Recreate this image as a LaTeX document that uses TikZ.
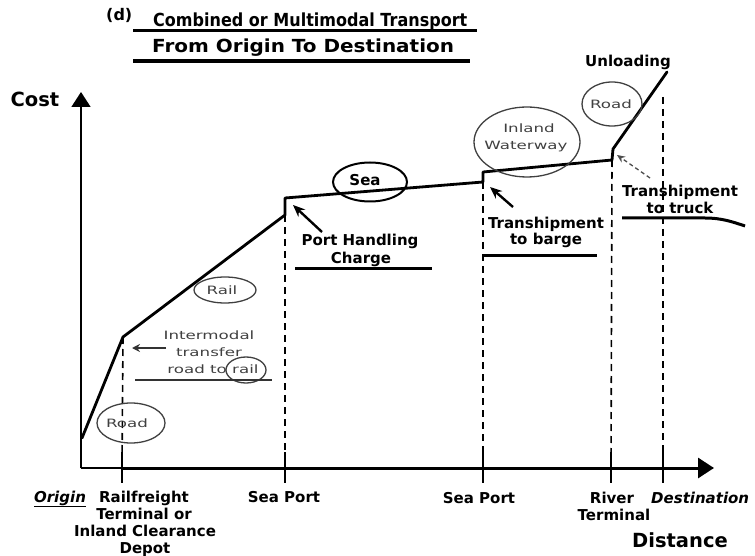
\documentclass[tikz,border=0pt]{standalone}
\usepackage{fontspec}
\usepackage{graphicx}
\setmainfont{DejaVu Sans}
\newfontfamily\widefont[FakeStretch=1.45]{DejaVu Sans}
\usetikzlibrary{arrows.meta,shapes.geometric}
\begin{document}
\begin{tikzpicture}[x=1pt,y=-1pt,
  lbl/.style={font=\fontsize{15}{17}\selectfont\bfseries, align=center, inner sep=0pt},
  ttl/.style={font=\fontsize{18}{20}\selectfont\bfseries, inner sep=0pt},
  big/.style={font=\fontsize{19.5}{22}\selectfont\bfseries, inner sep=0pt},
  lite/.style={font=\widefont\fontsize{11.5}{17}\selectfont, text=black!75, align=center, inner sep=0pt},
  ring/.style={ellipse, draw=black!75, line width=1.3pt, inner sep=0pt},
  curve/.style={line width=2.8pt, line join=round, line cap=round},
  dashline/.style={line width=1.6pt, dash pattern=on 7pt off 5pt},
  tickmark/.style={line width=2.4pt},
  uline/.style={line width=3pt},
  pointer/.style={line width=2.4pt, -{Stealth[length=12pt,width=10pt]}},
]
\useasboundingbox (0,0) rectangle (755,556);

% ---------- title ----------
\node[font=\fontsize{16}{18}\selectfont\bfseries, anchor=base west, inner sep=0pt] (dlab) at (106,21) {(d)};
\node[ttl, anchor=base west] (title1) at (153,27) {\scalebox{0.89}[1]{Combined or Multimodal Transport}};
\node[ttl, anchor=base west] (title2) at (152,53) {\scalebox{1.11}[1]{From Origin To Destination}};
\draw[uline] (133,31) -- (477,31);
\draw[line width=4pt] (133,61) -- (470,61);

% ---------- axes ----------
\coordinate (O) at (81,468);
\coordinate (ytip) at (81,92);
\coordinate (xtip) at (714,468);
\coordinate (rf) at (122,468);
\draw[line width=1.6pt, -{Triangle[length=15pt,width=19pt]}] (O) -- (ytip);
\draw[line width=1.6pt] (O) -- (rf);
\draw[line width=3pt, -{Triangle[length=16pt,width=20pt]}] (rf) -- (xtip);
\draw[line width=1.6pt] (O) -- ++(0,-10);
\node[big, anchor=base] (cost) at (35,107) {Cost};
\node[big, anchor=base] (dist) at (680,547) {Distance};

% ticks
\coordinate (t1) at (122,468);
\coordinate (t2) at (285,468);
\coordinate (t3) at (483,468);
\coordinate (t4) at (611,468);
\coordinate (t5) at (663,468);
\foreach \t in {t1,t2,t3,t4,t5}
  \draw[tickmark] ([yshift=16pt]\t) -- ([yshift=-15pt]\t);

% ---------- cost curve ----------
\coordinate (c0) at (82,438);
\coordinate (c1) at (123,337);
\coordinate (c2) at (285,215);
\coordinate (c3) at (285,198);
\coordinate (c4) at (483,182);
\coordinate (c5) at (483,172);
\coordinate (c6) at (612,160);
\coordinate (c7) at (613,149);
\coordinate (c8) at (667,72);
\coordinate (dtop) at (663,97);
\draw[curve] (c0) -- (c1) -- (c2) -- (c3) -- (c4) -- (c5) -- (c6) -- (c7) -- (c8);

% dashed verticals
\draw[dashline] (c1) -- (t1);
\draw[dashline] (c2) -- (t2);
\draw[dashline] (c4) -- (t3);
\draw[dashline] (c6) -- (t4);
\draw[dashline] (dtop) -- (t5);

% ---------- circled mode labels ----------
\node[ring, minimum width=68pt, minimum height=40pt] (roadA) at (131,423) {};
\node[lite] (roadAtxt) at (127,423) {Road};
\node[ring, minimum width=62pt, minimum height=26pt] (rail) at (225,290) {};
\node[lite] (railtxt) at (222,290) {Rail};
\node[ring, line width=2pt, draw=black, minimum width=74pt, minimum height=39pt] (sea) at (370,182) {};
\node[lbl] (seatxt) at (365,180) {Sea};
\node[ring, minimum width=106pt, minimum height=70pt] (iw) at (527,142) {};
\node[lite, anchor=base] (iw1) at (529,133) {Inland};
\node[lite, anchor=base] (iw2) at (526,150) {Waterway};
\node[ring, minimum width=60pt, minimum height=44pt] (roadB) at (612,104) {};
\node[lite] (roadBtxt) at (611,104) {Road};

% ---------- intermodal transfer ----------
\node[lite, anchor=base] (im1) at (209,339) {Intermodal};
\node[lite, anchor=base] (im2) at (209,356) {transfer};
\node[lite, anchor=base] (im3) at (213,373) {road to rail};
\node[ring, minimum width=40pt, minimum height=26pt] (railring) at (246,370) {};
\draw[line width=1.4pt, black!80] (135,380) -- (272,380);
\coordinate (imtip) at (132,348);
\coordinate (imtail) at (166,348);
\draw[line width=1.5pt, black!80, -{Stealth[length=8pt,width=8pt]}] (imtail) -- (imtip);

% ---------- port handling ----------
\node[lbl, anchor=base] (ph1) at (360,246) {Port Handling};
\node[lbl, anchor=base] (ph2) at (361,263) {Charge};
\draw[uline] (295,268) -- (432,268);
\coordinate (phtail) at (322,232);
\coordinate (phtip) at (293,205);
\draw[pointer] (phtail) -- (phtip);

% ---------- transhipment to barge ----------
\node[lbl, anchor=base] (tb1) at (546,229) {Transhipment};
\node[lbl, anchor=base] (tb2) at (546,244) {to barge};
\draw[uline] (483,255) -- (597,255);
\coordinate (tbtail) at (513,207);
\coordinate (tbtip) at (490,187);
\draw[pointer] (tbtail) -- (tbtip);

% ---------- transhipment to truck ----------
\node[lbl, anchor=base] (tt1) at (680,197) {Transhipment};
\node[lbl, anchor=base] (tt2) at (680,214) {to truck};
\draw[uline] (622,218) -- (705,218) .. controls (722,218) and (733,222) .. (745,226);
\coordinate (tttail) at (650,178);
\coordinate (tttip) at (617,155);
\draw[line width=1.3pt, black!70, dash pattern=on 4pt off 3pt, -{Stealth[length=8pt,width=7pt]}] (tttail) -- (tttip);

% ---------- unloading ----------
\node[lbl, anchor=base] (unl) at (628,67) {Unloading};

% ---------- axis labels ----------
\node[lbl, anchor=base, font=\fontsize{15}{17}\selectfont\bfseries\itshape] (orig) at (60,502) {\underline{Origin}};
\node[lbl, anchor=base] (rf1) at (144,502) {Railfreight};
\node[lbl, anchor=base] (rf2) at (144,519) {Terminal or};
\node[lbl, anchor=base] (rf3) at (145,536) {Inland Clearance};
\node[lbl, anchor=base] (rf4) at (145,553) {Depot};
\node[lbl, anchor=base] (sp1) at (284,502) {Sea Port};
\node[lbl, anchor=base] (sp2) at (479,503) {Sea Port};
\node[lbl, anchor=base] (rt1) at (612,503) {River};
\node[lbl, anchor=base] (rt2) at (614,520) {Terminal};
\node[lbl, anchor=base west, font=\fontsize{15}{17}\selectfont\bfseries\itshape] (dest) at (651,503) {Destination};
\end{tikzpicture}
\end{document}
